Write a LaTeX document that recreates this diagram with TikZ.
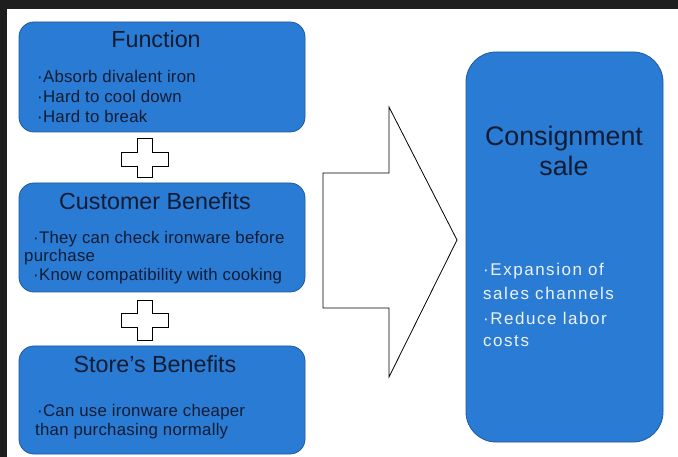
\documentclass[tikz,border=0pt]{standalone}
\usepackage{fontspec}
\setmainfont{Liberation Sans}
\newfontfamily\widefont[LetterSpace=9]{Liberation Sans}
\newfontfamily\bulfont[LetterSpace=1.5]{Liberation Sans}
\definecolor{boxblue}{HTML}{2A7BD4}
\definecolor{boxedge}{HTML}{1D5A9E}
\definecolor{navy}{HTML}{111C33}
\definecolor{frame}{HTML}{1E1E1E}
\definecolor{lighttext}{HTML}{EEF2F7}
\begin{document}
\begin{tikzpicture}[x=1pt,y=-1pt,
  box/.style={draw=boxedge, line width=0.8pt, fill=boxblue, rounded corners=15pt, inner sep=0pt},
  title/.style={anchor=base, inner sep=0pt, text=navy, font=\fontsize{23.3}{27}\selectfont},
  bul/.style={anchor=base west, inner sep=0pt, text=navy, font=\fontsize{16.8}{19}\bulfont},
  cbul/.style={anchor=base west, inner sep=0pt, text=lighttext, font=\fontsize{17}{20}\widefont},
  plusshape/.style={draw=black, line width=0.8pt, fill=white},
  bigarrow/.style={draw=black, line width=0.8pt, fill=white, line join=miter}
]
\useasboundingbox (0,0) rectangle (678,457);
\fill[white] (0,0) rectangle (678,457);
\fill[frame] (0,0) rectangle (678,9);
\fill[frame] (0,0) rectangle (7,457);

% left boxes
\node[box, minimum width=286pt, minimum height=110pt] (func) at (162,77) {};
\node[box, minimum width=286pt, minimum height=109pt] (cust) at (162,237.5) {};
\node[box, minimum width=286pt, minimum height=108pt] (store) at (162,400) {};

% consignment box
\node[box, rounded corners=30pt, minimum width=197pt, minimum height=390pt] (cons) at (564.5,247) {};

% titles
\node[title] (functitle) at (156,48) {Function};
\node[title] (custtitle) at (155,210) {Customer Benefits};
\node[title] (storetitle) at (155,373) {Store’s Benefits};

% function bullets
\node[bul] (f1) at (37,83) {·Absorb divalent iron};
\node[bul] (f2) at (37,103) {·Hard to cool down};
\node[bul] (f3) at (37,123) {·Hard to break};

% customer bullets
\node[bul] (c1) at (33,244) {·They can check ironware before};
\node[bul] (c2) at (24,262) {purchase};
\node[bul] (c3) at (33,281) {·Know compatibility with cooking};

% store bullets
\node[bul] (s1) at (37,416) {·Can use ironware cheaper};
\node[bul] (s2) at (35,435) {than purchasing normally};

% consignment text
\node[title, font=\fontsize{26.8}{30}\selectfont] (constitle1) at (564,146) {Consignment};
\node[title, font=\fontsize{26.8}{30}\selectfont] (constitle2) at (564,176) {sale};
\node[cbul] (k1) at (483,276) {·Expansion of};
\node[cbul] (k2) at (483,300) {sales channels};
\node[cbul] (k3) at (483,324) {·Reduce labor};
\node[cbul] (k4) at (483,347) {costs};

% plus signs
\draw[plusshape] (137,138) -- (152,138) -- (152,152) -- (168,152) -- (168,166) -- (152,166) -- (152,177) -- (137,177) -- (137,166) -- (121,166) -- (121,152) -- (137,152) -- cycle;
\draw[plusshape] (137,300) -- (152,300) -- (152,313) -- (168,313) -- (168,327) -- (152,327) -- (152,340) -- (137,340) -- (137,327) -- (121,327) -- (121,313) -- (137,313) -- cycle;

% big arrow
\draw[bigarrow] (323,173) -- (389,173) -- (389,107) -- (457,240) -- (389,377) -- (389,308) -- (323,308) -- cycle;
\end{tikzpicture}
\end{document}
